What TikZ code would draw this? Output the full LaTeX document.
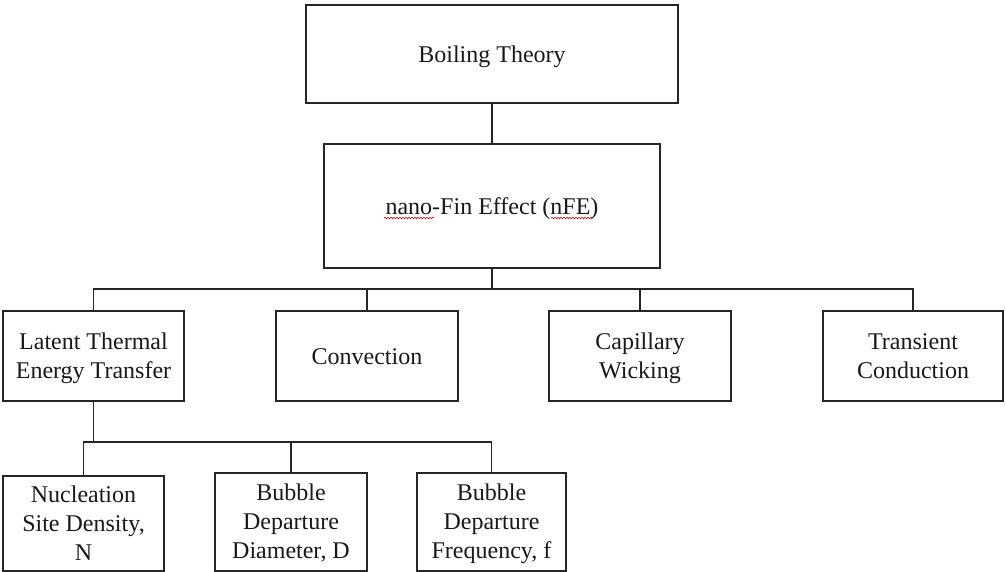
\documentclass[tikz,border=0pt]{standalone}
\usepackage{fontspec}
\setmainfont{Liberation Serif}
\usetikzlibrary{decorations.pathmorphing}
\newcommand\mystrut{\rule[-6pt]{0pt}{27pt}}
\begin{document}
\begin{tikzpicture}[x=1pt,y=-1pt,
  box/.style={draw=black!85, line width=1.3pt, rectangle, align=center, inner sep=0pt,
    font=\fontsize{24}{29}\selectfont, text=black!90},
  oneline/.style={text height=17pt, text depth=0pt},
  conn/.style={draw=black!85, line width=1.3pt},
  squig/.style={draw=red!80!black, line width=0.6pt, decorate,
    decoration={snake, segment length=3pt, amplitude=0.8pt}}]
\useasboundingbox (0,0) rectangle (1006,572);
\node[box, oneline, minimum width=372pt, minimum height=98pt] (boil) at (492,54) {Boiling Theory};
\node[box, oneline, minimum width=336pt, minimum height=124pt] (nfe) at (492,206) {nano-Fin Effect (nFE)};
\node[box, minimum width=181pt, minimum height=90pt] (latent) at (93.5,356) {\mystrut Latent Thermal\\Energy Transfer\mystrut};
\node[box, oneline, minimum width=182pt, minimum height=90pt] (conv) at (367,356) {Convection};
\node[box, minimum width=182pt, minimum height=90pt] (cap) at (640,356) {\mystrut Capillary\\Wicking\mystrut};
\node[box, minimum width=180pt, minimum height=90pt] (trans) at (913,356) {\mystrut Transient\\Conduction\mystrut};
\node[box, minimum width=161pt, minimum height=95pt] (nuc) at (83.5,523.5) {\mystrut Nucleation\\Site Density,\\N\mystrut};
\node[box, minimum width=152pt, minimum height=98pt] (diam) at (291,522) {\mystrut Bubble\\Departure\\Diameter, D\mystrut};
\node[box, minimum width=149pt, minimum height=98pt] (freq) at (491.5,522) {\mystrut Bubble\\Departure\\Frequency, f\mystrut};
\coordinate (bA) at (0,289);
\coordinate (bB) at (0,442);
\draw[conn] (boil.south) -- (nfe.north);
\draw[conn] (nfe.south) -- (nfe.south |- bA);
\draw[conn] (latent.north) |- (trans.north |- bA) -- (trans.north);
\draw[conn] (conv.north) -- (conv.north |- bA);
\draw[conn] (cap.north) -- (cap.north |- bA);
\draw[conn] (latent.south) -- (latent.south |- bB);
\draw[conn] (nuc.north) |- (freq.north |- bB) -- (freq.north);
\draw[conn] (diam.north) -- (diam.north |- bB);
\coordinate (s1a) at (384,218);
\coordinate (s1b) at (434,218);
\coordinate (s2a) at (551,218);
\coordinate (s2b) at (593,218);
\draw[squig] (s1a) -- (s1b);
\draw[squig] (s2a) -- (s2b);
\end{tikzpicture}
\end{document}
